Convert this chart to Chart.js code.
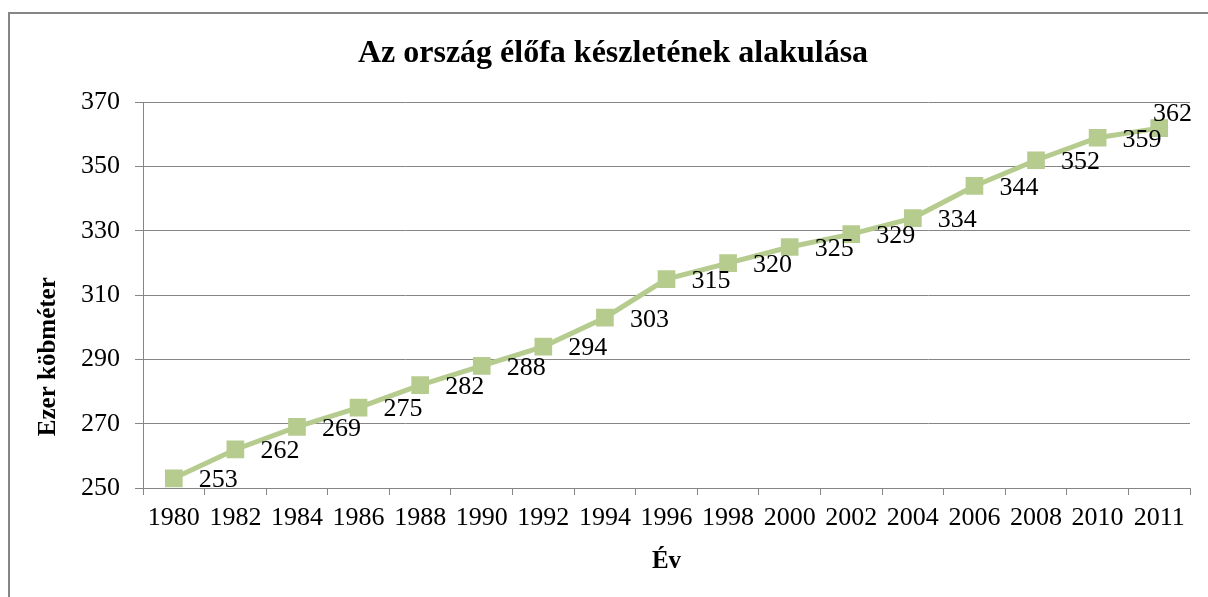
<!DOCTYPE html>
<html lang="hu">
<head>
<meta charset="utf-8">
<title>Az ország élőfa készletének alakulása</title>
<script src="https://cdn.jsdelivr.net/npm/chart.js@4.4.1/dist/chart.umd.min.js"></script>
<style>
  html, body { margin: 0; padding: 0; background: #fff; }
  #wrap { position: relative; width: 1208px; height: 597px; overflow: hidden; }
  #frame {
    position: absolute; left: 8px; top: 12px; width: 1300px; height: 700px;
    border-left: 2px solid #868686; border-top: 2px solid #868686;
    pointer-events: none;
  }
  canvas { position: absolute; left: 0; top: 0; }
</style>
</head>
<body>
<div id="wrap">
  <canvas id="chart" width="1208" height="597"></canvas>
  <div id="frame"></div>
</div>
<script>
const years = ['1980', '1982', '1984', '1986', '1988', '1990', '1992', '1994', '1996',
  '1998', '2000', '2002', '2004', '2006', '2008', '2010', '2011'];
const stock = [253, 262, 269, 275, 282, 288, 294, 303, 315, 320, 325, 329, 334, 344, 352, 359, 362];
const yTicks = [250, 270, 290, 310, 330, 350, 370];

const serif = "'Liberation Serif', 'Times New Roman', serif";
const green = '#B6CC8F';
const gray = '#868686';

// value labels to the right of each marker, like Excel's "Right" position
const valueLabels = {
  id: 'valueLabels',
  afterDatasetsDraw(chart) {
    const ctx = chart.ctx;
    const area = chart.chartArea;
    const meta = chart.getDatasetMeta(0);
    ctx.save();
    ctx.font = '26px ' + serif;
    ctx.fillStyle = '#000';
    ctx.textBaseline = 'middle';
    ctx.textAlign = 'left';
    meta.data.forEach((pt, i) => {
      const text = String(stock[i]);
      const w = ctx.measureText(text).width;
      let x = pt.x + 25;
      let y = pt.y + 2;
      if (x + w > area.right + 4) {
        x = area.right + 2 - w;
        y = pt.y - 14;
      }
      ctx.fillText(text, x, y);
    });
    ctx.restore();
  }
};

// y axis title, centred a bit lower like the original
const yTitle = {
  id: 'yTitle',
  afterDraw(chart) {
    const ctx = chart.ctx;
    const s = chart.scales.y;
    ctx.save();
    ctx.translate(s.left + 13, (chart.chartArea.top + chart.height) / 2 + 7);
    ctx.rotate(-Math.PI / 2);
    ctx.font = 'bold 25px ' + serif;
    ctx.fillStyle = '#000';
    ctx.textAlign = 'center';
    ctx.textBaseline = 'middle';
    ctx.fillText('Ezer köbméter', 0, 0);
    ctx.restore();
  }
};

new Chart(document.getElementById('chart'), {
  type: 'line',
  data: {
    labels: years,
    datasets: [{
      data: stock,
      borderColor: green,
      backgroundColor: green,
      borderWidth: 5,
      tension: 0,
      pointStyle: 'rect',
      pointRadius: 12.5,
      pointBorderWidth: 0,
      pointBackgroundColor: green,
    }],
  },
  options: {
    responsive: false,
    animation: false,
    layout: { padding: { left: 36, right: 18, top: 0, bottom: 0 } },
    plugins: {
      legend: { display: false },
      tooltip: { enabled: false },
      title: {
        display: true,
        text: 'Az ország élőfa készletének alakulása',
        color: '#000',
        font: { family: serif, size: 32, weight: 'bold' },
        padding: { top: 35, bottom: 29 },
      },
    },
    scales: {
      x: {
        offset: true,
        grid: { offset: true, drawOnChartArea: false, drawTicks: true, tickLength: 7, color: gray },
        border: { color: gray, width: 1 },
        ticks: { color: '#000', font: { family: serif, size: 26 }, padding: 8, autoSkip: false, maxRotation: 0 },
        title: {
          display: true, text: 'Év', color: '#000',
          font: { family: serif, size: 25, weight: 'bold' },
          padding: { top: 0, bottom: 20 },
        },
        afterFit(scale) { scale.height = 109; },
      },
      y: {
        min: yTicks[0],
        max: yTicks[yTicks.length - 1],
        afterBuildTicks(scale) { scale.ticks = yTicks.map(v => ({ value: v })); },
        grid: { color: gray, tickLength: 8 },
        border: { color: gray, width: 1 },
        ticks: { color: '#000', font: { family: serif, size: 26 }, padding: 15 },
        afterFit(scale) { scale.width = 107; },
      },
    },
  },
  plugins: [valueLabels, yTitle],
});
</script>
</body>
</html>
